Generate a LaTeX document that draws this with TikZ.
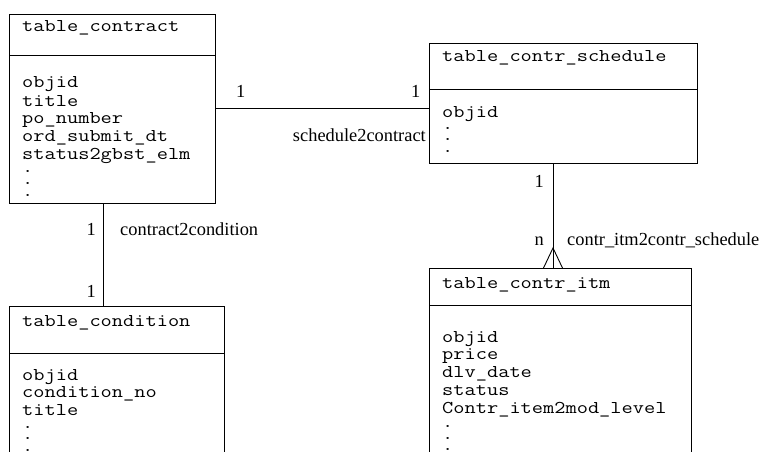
\documentclass[tikz,border=0pt]{standalone}
\usepackage{graphicx}
\usepackage{fontspec}
\setmainfont{Liberation Serif}
% field text: Latin Modern Mono, widened to the column pitch of the tables
\newcommand\fieldfont{\ttfamily\fontsize{18}{18}\selectfont}
\newcommand\fw[1]{\scalebox{1.21}[1]{#1}}
\newcommand\labelfont{\rmfamily\fontsize{18.4}{20}\selectfont}
\tikzset{
  tbl/.style={draw, line width=0.9pt, rectangle, inner sep=0pt, outer sep=0pt},
  fld/.style={anchor=base west, font=\fieldfont, inner sep=0pt},
  card/.style={anchor=base west, font=\labelfont, inner sep=0pt},
  rel/.style={draw, line width=0.9pt},
}
\begin{document}
\begin{tikzpicture}[x=1pt, y=-1pt]
\useasboundingbox (0,0) rectangle (765,452);
\clip (0,0) rectangle (765,452);

% ---- tables ----
\node[tbl, minimum width=206pt, minimum height=189pt] (contract) at (112,108.5) {};
\node[tbl, minimum width=268pt, minimum height=120pt] (schedule) at (563,103) {};
\node[tbl, minimum width=215pt, minimum height=174pt] (condition) at (116.5,393) {};
\node[tbl, minimum width=262pt, minimum height=212pt] (itm) at (560,374) {};

% header separators
\draw[rel] (contract.west |- 0,55) -- (contract.east |- 0,55);
\draw[rel] (schedule.west |- 0,89) -- (schedule.east |- 0,89);
\draw[rel] (condition.west |- 0,353) -- (condition.east |- 0,353);
\draw[rel] (itm.west |- 0,305) -- (itm.east |- 0,305);

% table_contract
\node[fld] (c0) at (22,32) {\fw{table\_contract}};
\node[fld] (c1) at (22,88) {\fw{objid}};
\node[fld] (c2) at (22,106) {\fw{title}};
\node[fld] (c3) at (22,123.5) {\fw{po\_number}};
\node[fld] (c4) at (22,141) {\fw{ord\_submit\_dt}};
\node[fld] (c5) at (22,159) {\fw{status2gbst\_elm}};
\node[fld] (c6) at (22,172) {\fw{.}};
\node[fld] (c7) at (22,184) {\fw{.}};
\node[fld] (c8) at (22,196) {\fw{.}};

% table_contr_schedule
\node[fld] (s0) at (442,62) {\fw{table\_contr\_schedule}};
\node[fld] (s1) at (442,117) {\fw{objid}};
\node[fld] (s2) at (442,129) {\fw{.}};
\node[fld] (s3) at (442,140) {\fw{.}};
\node[fld] (s4) at (442,152.5) {\fw{.}};

% table_condition
\node[fld] (d0) at (22,326) {\fw{table\_condition}};
\node[fld] (d1) at (22,380) {\fw{objid}};
\node[fld] (d2) at (22,397.5) {\fw{condition\_no}};
\node[fld] (d3) at (22,415) {\fw{title}};
\node[fld] (d4) at (22,428) {\fw{.}};
\node[fld] (d5) at (22,439.5) {\fw{.}};
\node[fld] (d6) at (22,451) {\fw{.}};

% table_contr_itm
\node[fld] (i0) at (442,288) {\fw{table\_contr\_itm}};
\node[fld] (i1) at (442,342) {\fw{objid}};
\node[fld] (i2) at (442,359.5) {\fw{price}};
\node[fld] (i3) at (442,377) {\fw{dlv\_date}};
\node[fld] (i4) at (442,395) {\fw{status}};
\node[fld] (i5) at (442,413) {\fw{Contr\_item2mod\_level}};
\node[fld] (i6) at (442,427) {\fw{.}};
\node[fld] (i7) at (442,439) {\fw{.}};
\node[fld] (i8) at (442,450) {\fw{.}};

% ---- relationships ----
% schedule2contract
\draw[rel] (contract.east) -- (contract.east -| schedule.west);
\node[card] (r1a) at (236,97) {1};
\node[card] (r1b) at (411,97) {1};
\node[card, anchor=base east] (r1n) at (426,141) {schedule2contract};

% contract2condition
\path ([xshift=-9pt]contract.south) coordinate (k1)
      (k1 |- condition.north) coordinate (k2);
\draw[rel] (k1) -- (k2);
\node[card] (r2a) at (86.5,235) {1};
\node[card] (r2b) at (86.5,297) {1};
\node[card] (r2n) at (120,235) {contract2condition};

% contr_itm2contr_schedule (one to many)
\path ([xshift=-10pt]schedule.south) coordinate (m1)
      (m1 |- itm.north) coordinate (m2);
\draw[rel] (m1) -- (m2);
\draw[rel] ([xshift=-9.5pt]m2) -- ([yshift=20pt]m2) -- ([xshift=9.5pt]m2);
\node[card] (r3a) at (534.5,187) {1};
\node[card] (r3b) at (534.5,245) {n};
\node[card] (r3n) at (567,245) {contr\_itm2contr\_schedule};
\end{tikzpicture}
\end{document}
